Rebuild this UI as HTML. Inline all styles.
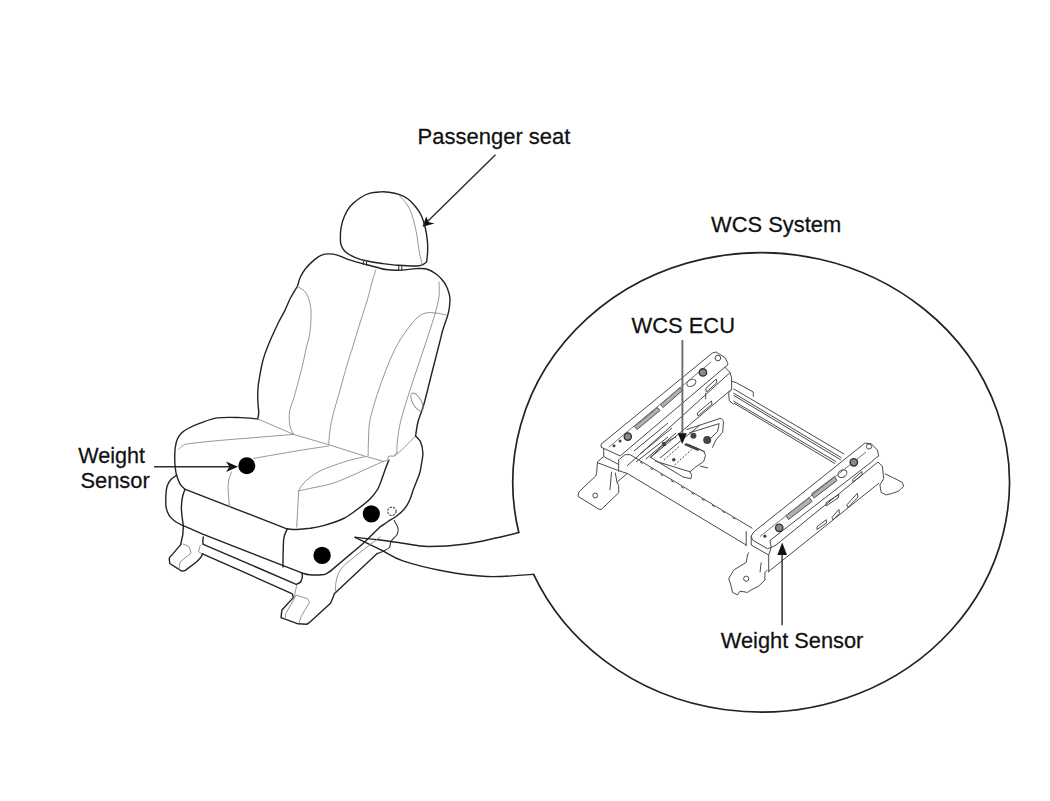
<!DOCTYPE html>
<html><head><meta charset="utf-8">
<style>
html,body{margin:0;padding:0;background:#fff;width:1050px;height:801px;overflow:hidden}
svg{display:block}
text{font-family:"Liberation Sans",sans-serif;font-size:21.6px;fill:#111;stroke:#111;stroke-width:0.25}
.o{fill:none;stroke:#222;stroke-width:1.4;stroke-linejoin:round;stroke-linecap:round}
.t{fill:none;stroke:#8a8a8a;stroke-width:0.9;stroke-linecap:round}
.m{fill:none;stroke:#333;stroke-width:1.1;stroke-linejoin:round;stroke-linecap:round}
.a{fill:none;stroke:#2e2e2e;stroke-width:1.45}
.f{fill:none;stroke:#4a4a4a;stroke-width:1.0;stroke-linejoin:round}
.sl{fill:#b0b0b0;stroke:#555;stroke-width:1}
</style></head>
<body>
<svg width="1050" height="801" viewBox="0 0 1050 801">
<!-- TEXT -->
<text transform="translate(417.6,144) scale(1,1.04)" style="font-size:22px">Passenger seat</text>
<text transform="translate(711,232) scale(1,1.04)" style="font-size:21.9px">WCS System</text>
<text transform="translate(631.6,333) scale(1,1.04)" style="font-size:21.9px">WCS ECU</text>
<text transform="translate(720.8,647.8) scale(1,1.04)" style="font-size:21.8px">Weight Sensor</text>
<text transform="translate(78.3,463) scale(1,1.04)" style="font-size:21.6px">Weight</text>
<text transform="translate(80.4,488.2) scale(1,1.04)" style="font-size:21.9px">Sensor</text>

<!-- passenger seat arrow -->
<path class="a" d="M495.5,154.7 L427,222"/>
<path d="M422.5,226.8 L426.2,216.5 L428.5,222 L434.5,223.5 Z" fill="#111"/>

<!-- weight sensor arrow -->
<path class="a" d="M154,466.7 L232,466.7"/>
<path d="M238,466.7 L226,461.5 L229.5,466.7 L226,472 Z" fill="#111"/>

<!-- dots -->
<circle cx="246.8" cy="465.8" r="8.5" fill="#000"/>
<circle cx="371.3" cy="513.8" r="8.6" fill="#000"/>
<circle cx="322.1" cy="555.4" r="8.7" fill="#000"/>
<circle cx="391.9" cy="511.3" r="4.2" fill="none" stroke="#444" stroke-width="1.1" stroke-dasharray="2.2 1.2"/>

<!-- big ellipse with callout -->
<path class="o" style="stroke-width:1.7" d="M518.78,532.5 A248.3,229.7 0 1 1 533.59,574.4"/>
<!--CALLOUT-->

<!-- SEAT -->
<path class="o" d="M426.6,262.0 C426.8,260.3 427.5,255.5 427.6,252.0 C427.7,248.5 427.8,245.0 427.4,241.0 C427.0,237.0 426.3,232.2 425.3,228.0 C424.3,223.8 423.1,219.5 421.5,216.0 C419.9,212.5 418.1,209.8 415.8,207.0 C413.6,204.2 410.8,201.1 408.0,199.0 C405.2,196.9 402.2,195.4 399.0,194.3 C395.8,193.2 392.0,192.6 389.0,192.2 C386.0,191.8 384.0,191.7 380.8,191.9 C377.6,192.1 373.5,192.2 370.0,193.2 C366.5,194.2 363.2,195.9 360.0,198.0 C356.8,200.1 353.1,203.0 350.5,206.0 C347.9,209.0 346.1,212.3 344.5,216.0 C342.9,219.7 341.7,224.3 341.0,228.0 C340.3,231.7 340.4,235.2 340.4,238.0 C340.4,240.8 340.3,242.8 341.1,245.0 C341.9,247.2 342.7,249.4 345.0,251.5 C347.3,253.6 351.1,255.7 354.8,257.3 C358.5,258.9 362.6,260.0 367.1,261.0 C371.6,262.0 376.8,262.8 382.0,263.5 C387.2,264.2 392.3,264.9 398.1,265.3 C403.9,265.7 412.6,266.1 416.7,266.0 C420.8,265.9 421.4,265.2 423.0,264.5 C424.6,263.8 426.0,262.4 426.6,262.0"/>
<path class="t" d="M399.0,195.2 C400.5,197.0 405.6,201.9 408.0,206.0 C410.4,210.1 412.0,215.0 413.5,220.0 C415.0,225.0 416.1,230.8 417.0,236.0 C417.9,241.2 418.2,246.3 419.1,251.1 C420.0,255.9 421.7,262.4 422.2,264.7"/>
<path class="o" d="M297.4,286.4 C297.9,284.9 298.9,280.3 300.3,277.3 C301.7,274.3 303.5,271.2 305.8,268.3 C308.1,265.4 311.5,262.3 314.0,260.1 C316.5,257.9 318.4,256.3 320.9,255.3 C323.4,254.3 326.3,253.9 329.2,253.9 C332.1,253.9 334.9,254.4 338.1,255.3 C341.3,256.2 343.8,258.0 348.6,259.6 C353.4,261.2 360.9,263.1 367.1,264.7 C373.3,266.3 380.5,268.6 385.7,269.5 C390.9,270.4 392.9,270.4 398.1,270.3 C403.3,270.2 411.9,268.8 416.7,268.6 C421.4,268.4 423.3,268.1 426.6,269.0 C429.9,269.9 433.7,272.1 436.5,274.2 C439.3,276.3 441.7,279.2 443.5,281.5 C445.3,283.8 446.1,285.4 447.2,288.0 C448.2,290.6 449.4,293.7 449.8,297.0 C450.2,300.3 449.7,304.8 449.3,308.0 C448.9,311.2 448.6,312.3 447.5,316.0 C446.4,319.7 444.1,325.8 442.8,330.0 C441.6,334.2 441.8,334.0 440.0,341.0 C438.2,348.0 434.8,361.5 432.1,372.0 C429.4,382.5 426.3,395.8 424.0,404.0 C421.7,412.2 419.6,415.7 418.2,421.0 C416.8,426.3 416.0,433.5 415.6,436.0"/>
<path class="o" d="M297.4,286.4 C296.2,288.3 292.6,294.0 290.5,298.0 C288.4,302.0 286.8,306.6 284.8,310.6 C282.8,314.6 280.6,318.1 278.7,322.0 C276.8,325.9 274.9,330.0 273.2,333.8 C271.5,337.6 269.8,341.4 268.3,345.0 C266.9,348.6 265.6,351.7 264.5,355.1 C263.4,358.5 262.5,361.9 261.7,365.5 C260.9,369.1 260.3,373.0 259.7,376.4 C259.1,379.8 258.5,382.8 258.2,386.0 C257.9,389.2 257.7,392.5 257.7,395.7 C257.7,398.9 257.9,402.1 258.1,405.0 C258.3,407.9 258.8,410.8 258.7,413.1 C258.6,415.4 257.9,417.9 257.7,418.9"/>
<path class="m" d="M363.4,261.6 L363.4,264.7 M366.5,262 L366.5,265.2 M398.7,265.3 L398.7,270.3 M401.8,265.5 L401.8,270.3"/>
<path class="t" d="M297.4,286.4 C298.8,287.5 303.9,289.5 306.1,293.2 C308.4,296.9 310.2,302.2 310.9,308.7 C311.5,315.1 310.8,325.2 310.0,331.9 C309.2,338.6 307.3,343.2 306.0,349.0 C304.7,354.8 304.1,358.9 302.2,366.7 C300.3,374.5 296.6,388.1 294.5,395.7 C292.4,403.2 290.2,406.9 289.5,412.0 C288.8,417.1 289.3,422.3 290.0,426.0 C290.7,429.7 293.0,433.0 293.6,434.4"/>
<path class="t" d="M375.8,269.7 C375.1,272.1 372.9,278.9 371.5,284.0 C370.1,289.1 369.2,293.5 367.3,300.0 C365.4,306.5 362.4,315.3 360.0,323.0 C357.6,330.7 354.9,339.8 353.0,346.0 C351.1,352.2 350.7,352.7 348.5,360.0 C346.3,367.3 342.6,380.8 340.0,390.0 C337.4,399.2 334.7,408.3 333.0,415.0 C331.3,421.7 330.7,425.1 330.0,430.0 C329.3,434.9 328.9,442.2 328.7,444.7"/>
<path class="t" d="M439.0,282.0 C438.9,285.0 440.0,292.0 438.5,300.0 C437.0,308.0 433.1,320.0 430.0,330.0 C426.9,340.0 423.3,350.0 420.0,360.0 C416.7,370.0 413.2,380.0 410.0,390.0 C406.8,400.0 403.1,411.7 401.0,420.0 C398.9,428.3 398.2,434.6 397.5,440.0 C396.8,445.4 397.0,450.1 396.9,452.1"/>
<path class="t" d="M396.9,452.1 L394.2,456.1 L388.9,456.1 L387.5,458.7"/>
<path class="t" d="M368.1,456.1 C368.2,453.4 368.2,446.0 368.5,440.0 C368.8,434.0 368.4,428.0 370.0,420.0 C371.6,412.0 374.7,402.0 378.0,392.0 C381.3,382.0 386.3,368.7 390.0,360.0 C393.7,351.3 396.7,345.7 400.0,340.0 C403.3,334.3 407.0,329.8 410.0,326.0 C413.0,322.2 415.3,319.2 418.0,317.0 C420.7,314.8 423.0,313.7 426.0,313.0 C429.0,312.3 432.7,312.7 436.0,313.0 C439.3,313.3 444.3,314.7 446.0,315.0"/>
<ellipse cx="417" cy="402" rx="4.3" ry="10" transform="rotate(-30 417 402)" class="t"/>
<path class="t" d="M415.6,436.0 L399.5,452.1 L394.2,456.1"/>
<path class="o" d="M257.7,418.9 C254.8,418.7 246.8,417.8 240.1,417.6 C233.4,417.4 224.1,417.0 217.4,417.9 C210.7,418.8 205.0,421.4 200.1,423.2 C195.2,425.0 191.2,426.8 188.0,428.5 C184.8,430.2 182.8,431.6 181.0,433.5 C179.2,435.4 178.0,437.6 177.0,440.0 C176.0,442.4 175.6,444.9 175.2,448.0 C174.8,451.1 174.7,455.2 174.7,458.4 C174.7,461.6 174.9,464.2 175.2,467.0 C175.5,469.8 175.7,472.2 176.5,475.0 C177.3,477.8 178.6,481.4 180.0,483.8 C181.4,486.2 183.9,488.3 184.7,489.2"/>
<path class="o" d="M184.7,489.2 L286.9,528.8"/>
<path class="o" d="M286.9,528.8 C288.5,528.9 292.8,529.6 296.7,529.5 C300.6,529.4 305.6,528.9 310.0,528.3 C314.4,527.6 317.8,527.2 323.4,525.6 C329.0,524.0 337.7,521.3 343.5,518.5 C349.3,515.7 353.6,512.0 358.0,508.8 C362.4,505.6 366.8,502.2 370.0,499.0 C373.2,495.8 375.6,492.7 377.5,489.5 C379.4,486.3 380.1,483.8 381.5,480.0 C382.9,476.2 385.0,470.1 386.2,466.8 C387.4,463.5 388.4,461.2 388.9,460.1"/>
<path class="t" d="M257.7,418.9 L293.6,434.4 L328.7,444.7 L364.8,456.1 L383.5,461.4 L388.9,460.1"/>
<path class="t" d="M178.7,449.1 C179.4,448.5 181.2,446.4 183.0,445.5 C184.8,444.6 183.2,444.6 189.4,443.7 C195.6,442.8 209.0,441.4 220.1,440.4 C231.2,439.4 243.8,438.5 256.0,437.5 C268.2,436.5 287.3,434.9 293.6,434.4"/>
<path class="t" d="M253.5,458.4 C257.2,457.8 268.2,455.8 276.0,454.5 C283.8,453.2 291.2,451.8 300.0,450.4 C308.8,449.0 323.9,446.7 328.7,446.0"/>
<path class="t" d="M231.5,471.8 C231.1,473.2 229.4,477.3 228.8,480.0 C228.2,482.7 228.1,485.0 228.1,487.8 C228.1,490.6 228.4,493.9 228.6,497.0 C228.8,500.1 229.3,504.9 229.5,506.5"/>
<path class="t" d="M296.7,527.0 L298.7,490.8"/>
<path class="t" d="M298.7,490.8 C299.4,489.7 301.1,486.2 303.0,484.0 C304.9,481.8 307.3,479.5 310.0,477.4 C312.7,475.3 315.6,473.3 319.0,471.5 C322.4,469.7 325.4,468.6 330.1,466.8 C334.8,465.1 341.2,462.7 347.0,461.0 C352.8,459.3 361.8,457.4 364.8,456.7"/>
<path class="t" d="M298.7,490.8 C301.2,490.3 308.8,488.7 314.0,487.6 C319.2,486.5 325.1,485.5 330.1,484.1 C335.1,482.7 339.6,480.8 344.0,479.0 C348.4,477.2 352.5,475.3 356.8,473.4 C361.1,471.4 365.6,469.3 370.0,467.3 C374.4,465.3 381.2,462.4 383.5,461.4"/>
<path class="o" d="M415.6,436.0 C416.5,437.1 419.7,439.8 420.9,442.7 C422.1,445.6 422.8,450.2 422.9,453.4 C423.0,456.6 422.3,458.9 421.8,462.0 C421.3,465.1 420.7,469.2 420.0,472.0 C419.3,474.8 418.6,476.0 417.5,479.0 C416.4,482.0 414.4,486.8 413.2,490.0 C412.0,493.2 411.5,495.5 410.5,498.0 C409.5,500.5 408.5,502.9 407.1,505.2 C405.7,507.4 403.9,509.6 402.0,511.5 C400.1,513.4 398.0,515.0 395.7,516.7 C393.4,518.4 390.5,519.9 388.0,521.5 C385.5,523.1 381.8,525.8 380.5,526.6"/>
<path class="o" d="M380.5,526.6 L362.8,543.7 L330.1,571.4"/>
<path class="o" d="M330.1,571.4 C329.4,571.8 327.4,573.2 326.0,573.8 C324.6,574.4 324.6,574.6 321.9,574.8 C319.1,575.0 312.7,575.1 309.5,574.8 C306.3,574.5 303.7,573.4 302.5,573.1"/>
<path class="m" d="M394.2,520.5 C394.8,521.8 397.5,525.8 398.0,528.1 C398.5,530.4 398.4,532.0 397.2,534.2 C396.0,536.4 392.3,539.2 391.0,541.4 C389.7,543.6 390.7,545.9 389.4,547.5 C388.1,549.1 385.3,550.3 383.3,551.3 C381.3,552.3 378.2,553.2 377.2,553.6"/>
<path class="o" d="M176.7,475.1 C175.7,475.9 172.3,478.0 170.7,479.8 C169.1,481.6 168.0,483.7 167.2,486.0 C166.4,488.3 166.2,491.1 166.0,493.4 C165.8,495.7 165.8,497.8 165.8,500.0 C165.8,502.2 165.7,504.6 166.0,506.7 C166.3,508.8 166.9,510.7 167.7,512.5 C168.5,514.3 169.3,515.8 170.7,517.4 C172.1,519.0 173.9,520.6 176.0,522.0 C178.1,523.4 182.1,525.1 183.3,525.7"/>
<path class="o" d="M183.3,525.7 L203.3,534.3 L302.5,573.1"/>
<path class="o" d="M184.7,490.0 C184.3,491.2 183.1,494.2 182.5,497.0 C181.9,499.8 181.5,503.5 181.4,506.7 C181.3,509.9 181.7,512.8 182.0,516.0 C182.3,519.2 183.1,523.2 183.3,525.7 C183.5,528.2 183.1,529.5 183.0,531.0 C182.9,532.5 183.1,532.8 182.7,535.0 C182.3,537.2 181.0,542.8 180.7,544.3"/>
<path class="o" d="M287.4,528.7 C286.9,529.9 285.0,533.5 284.3,536.0 C283.6,538.5 283.6,540.2 283.4,543.4 C283.2,546.6 283.2,551.1 283.1,555.0 C283.0,558.9 283.0,565.0 283.0,567.0"/>
<path class="o" d="M518.8,532.5 C515.2,533.4 505.9,535.8 497.1,537.7 C488.3,539.6 477.2,542.5 465.7,544.0 C454.2,545.5 438.5,546.6 428.0,546.5 C417.5,546.4 411.2,544.3 402.9,543.2 C394.6,542.1 386.0,540.8 378.0,539.8 C370.0,538.8 358.9,537.7 355.1,537.3"/>
<path class="o" d="M355.1,537.3 C359.6,539.5 373.9,546.4 381.9,550.3 C389.9,554.2 392.4,557.3 402.9,560.8 C413.4,564.3 430.8,568.6 444.8,571.2 C458.8,573.8 474.5,575.8 486.7,576.5 C498.9,577.2 510.3,575.8 518.1,575.4 C525.9,575.0 531.0,574.6 533.6,574.4"/>
<!-- LEGS & RAILS -->
<path class="o" d="M180.7,544.6 L170.9,556.1 C169.5,557.5 169.2,558.5 169.2,558.9 L169.8,563.5 L178.9,569.3 C180,570.3 181,571 182.4,571 C183.5,571 184.5,570.8 185.3,570.4 L196.7,561.8 C199,559.5 200.5,558 201.3,556.6 L202.5,553.8"/>
<path class="t" d="M183,544 L188.7,546.3 L190.4,550.3 L191,553.2 L180.1,561.8 L178.9,569.3"/>
<path class="t" d="M200.2,545.7 L198.5,551.5 L201.9,553.8"/>
<path class="o" d="M203.3,537 L202.7,541.7 L203.3,544.3"/>
<path class="o" d="M203.3,544.3 L296.2,584.3 C299,583.5 300.5,582.5 301,581.4 C302,579 302.4,577 302.4,575.7 L301.9,572.9"/>
<path class="o" d="M202.5,553.8 L292.4,593.8 L293.3,597.6 L281.9,610 L281,617.6 L298.1,623.8 L306.7,624.3 L309.5,622.4 L330.5,603.3 L333.3,596.7 L334.3,593.8 L377.2,553.6"/>
<path class="t" d="M296.2,595.2 L307.6,598.6 L309.5,602.4 L301,616.7 L299,623.3 M296.2,595.2 L285.7,613.8 L285.7,617.6 M296.7,585.2 L294.3,596.7"/>
<path class="t" d="M380.3,536.9 L364.3,549 L345.2,564.3 C341,569 338.5,572 337.6,575.7 C336,580 335.5,585 335.3,591"/>

<!-- FRAME -->
<g class="f">
<!-- left rail plate -->
<path d="M601.1,444.2 L712.4,353 L716.2,352 L724.9,357.5 L728,363.7 L726.2,366.8 L724.8,367.2"/>
<path d="M601.1,444.2 L601.1,447.2 L617.9,454.9 L620.1,456 L724.8,367.2"/>
<path class="sl" d="M634.5,426.5 L657.5,407.5 L660,410.5 L637,429.5 Z"/>
<path class="sl" d="M660.5,404.5 L680,387.5 L682.5,390.5 L663,407.5 Z"/>
<ellipse cx="691.4" cy="382.9" rx="4.8" ry="3.2" transform="rotate(-30 691.4 382.9)"/>
<circle cx="717.9" cy="358" r="2.8"/>
<!-- left lower rail -->
<path d="M627,466 L730.1,372.5 L731.6,377.9 L731.6,389.3 L728.6,393.1 L729.3,400.7 L733.9,404.5"/>
<path d="M724.8,367.2 L730.1,372.5"/>
<path d="M650,458 L731.6,389.3"/>
<path d="M705.7,388.6 L716.2,379 L717,382.5 L706.5,392 Z"/>
<path d="M697.1,413.3 L711.4,401 L712,404 L698,416 Z"/>
<path d="M705.7,393.1 L705.7,399.2"/>
<!-- left foot -->
<path d="M603.7,448.5 L603.7,456.5 L597.5,461.8 L596.6,473.3 L595.7,476 L578.9,491.9 L578,496.4 L598.3,508.8 L601,509.7 L618.7,492.8 L618.7,485.7 L617,482.2 L627.6,473.3"/>
<path d="M597.5,462.7 L618.7,470.7 M603.7,456.5 L618.7,464.5 M618.7,459.2 L618.7,471.6 M611.6,471.6 L609.9,490.2 M615.2,472.5 L617,482.2"/>
<circle cx="595.2" cy="495.5" r="2.4"/>
<!-- front cross bar -->
<path d="M619.6,459.2 L624.9,454.7 L630.2,454.7 L752.4,528.4"/>
<path d="M618.7,470.7 L627.4,473.5 L746.3,545.1"/>
<path d="M640,462 L740,522" stroke-dasharray="3 9"/>
<!-- back cross bar -->
<path d="M733.4,388.7 L844.2,454.1 M733.4,393 L841.5,457.8 M733.4,395.2 L841,460 M733.4,401 L836.1,461.7 M734,403.2 L835,463.6"/>
<path d="M732,381.3 L736.6,382.9 L753.3,392 L753.3,396.6"/>
<!-- right rail plate -->
<path d="M753.7,532 L864.9,443.1 L871.2,443.7 L877.4,450 L878.7,456.2 L876.2,457.5"/>
<path d="M753.7,532 L751.2,536.2 L752.5,540 L767.4,548.7 L771.2,547.5 L770,540.4 L871,462.3 L876.2,457.5"/>
<path d="M751.2,536.2 L751.2,545 L768.7,555 L771.2,547.5"/>
<path class="sl" d="M786,515.5 L809.5,497.5 L812,501.5 L788.5,519.5 Z"/>
<path class="sl" d="M811.5,494 L834.5,476.5 L837,480.5 L814,498 Z"/>
<ellipse cx="842.4" cy="473.7" rx="4.8" ry="3.5" transform="rotate(-30 842.4 473.7)"/>
<circle cx="869" cy="446.5" r="2.6"/>
<!-- right lower rail -->
<path d="M771.2,547.5 L776,545 L878,462 L882.4,466.2 L883.7,478.7 L879.9,484.9 L881.2,492.4 L886.2,494.9 L891.2,493.7 L898.6,491.2 L903.6,486.2 L902.4,482.4 L892.4,477.4 L884.9,473.7"/>
<path d="M768.7,571.5 L879.1,483"/>
<path d="M826.3,502.5 L838.9,494.5 L838,498 L826,506 Z M852.7,479.5 L861.9,471.5 L862,475 L853,482 Z M832,517.4 L838.9,509.4 L839.5,513 L833,520 Z M817.1,526.6 L826.3,519.7 L826.5,523 L817,529.5 Z M846.9,504.8 L857.3,493.3 L858,497 L848,507.5 Z"/>
<!-- right foot -->
<path d="M748.7,552.4 L747.5,555 L746.2,562.4 L733.7,570 L728.7,578.7 L731.2,586.2 L732.5,592.4 L737.5,594.9 L740,591.2 L747.5,592.4 L751.2,589.9 L758.7,586.2 L764.9,579.9 L764.9,572.4 L767.4,570"/>
<path d="M761.2,562.4 L760,572.4 M768.7,555 L768.7,572.4"/>
<circle cx="746.2" cy="578.7" r="2.6"/>
<path d="M746.2,531.2 L746.2,546.2"/>
<path d="M636,462 L668,437 M660,458 L700,425"/>
<path d="M608.7,447.2 L711,362" stroke="#777"/>
<path d="M760,536.5 L866,452" stroke="#777"/>
<!-- FRAME END -->
<!-- ECU -->
<path d="M650.3,457.2 L683.1,477 L690.8,478.7 L691.7,475.3 L690,471.8 L696,466.7 L703.7,461.5 L705.5,455.5 L703.7,451.2 L688.2,444.3"/>
<path d="M650.3,457.2 L668,441 L676,437 M655,461 L690,471.8"/>
<path d="M664.1,459.8 L679.6,446 M674.5,465 L691.7,449.5" stroke-dasharray="2 1.6"/>
<path d="M640,454 L672,428 M646,459 L676,433 M634,451 L668,423"/>
<path d="M686.5,429.6 L720.1,418.4 C722,418.5 723.5,420 723.5,421.9 L722.7,432.2 L715.8,440 L712.4,447.7 M689,433 L719.2,423.6 L717.5,431.4 L711,438"/>
<path d="M694,447 L705,452 M700,466 L708,468"/>
</g>
<g fill="#444">
<g fill="#8a8a8a" stroke="#333" stroke-width="1.4"><circle cx="627.8" cy="436.6" r="3.6"/>
<circle cx="702.9" cy="372.4" r="3.7"/>
<circle cx="779.2" cy="527.8" r="3.7"/>
<circle cx="853.8" cy="462.3" r="3.7"/></g>
<circle cx="620.1" cy="441.1" r="1.5"/>
<circle cx="614" cy="445.7" r="1.5"/>
<circle cx="764.9" cy="536.2" r="1.6"/>
<circle cx="673.8" cy="459.8" r="1.8"/>
<circle cx="707.2" cy="440" r="4"/>
<circle cx="693.4" cy="435.7" r="3"/>
<circle cx="664" cy="444" r="2.2"/>
<path d="M686,443 L700,449 L698,451 L684,445 Z"/>
</g>
<!-- ECU arrow & weight sensor arrow (right) -->
<path d="M682.4,340 L682.4,435" fill="none" stroke="#6a6a6a" stroke-width="1.9"/>
<path d="M682.3,444 L677.8,433.2 L686.8,433.2 Z" fill="#111"/>
<path class="a" d="M782.1,625.2 L782.1,552"/>
<path d="M782.2,542.5 L777.4,555 L787,555 Z" fill="#111"/>
</svg>
</body></html>
